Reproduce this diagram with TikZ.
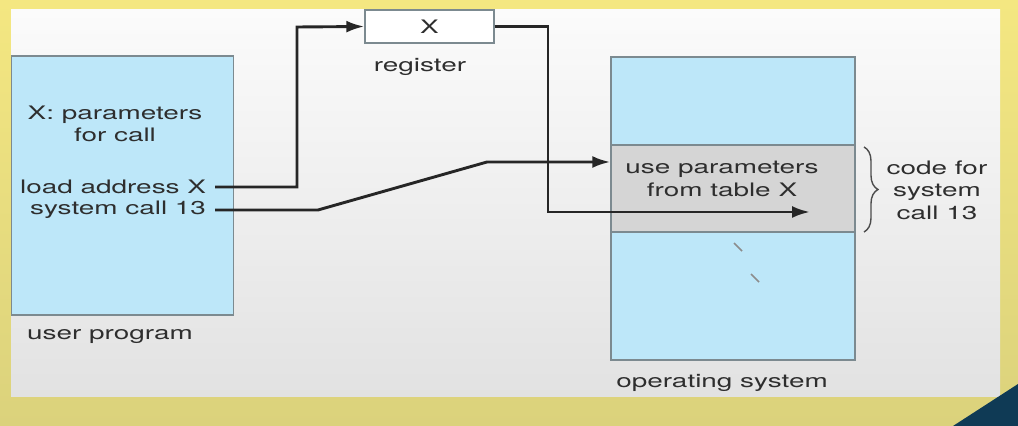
\documentclass[tikz,border=0pt]{standalone}
\usepackage{fontspec}
\setmainfont[FakeStretch=1.5]{TeX Gyre Heros}
\usetikzlibrary{arrows.meta, decorations.pathreplacing}

\definecolor{slidetop}{HTML}{F4E781}
\definecolor{slidebottom}{HTML}{DBD27C}
\definecolor{paneltop}{HTML}{FBFBFB}
\definecolor{panelbottom}{HTML}{E2E2E2}
\definecolor{memblue}{HTML}{BDE7F9}
\definecolor{bandgray}{HTML}{D5D5D5}
\definecolor{boxedge}{HTML}{7C8A90}
\definecolor{textgray}{HTML}{2E2E2E}
\definecolor{cornerblue}{HTML}{0F3A55}

\begin{document}
\begin{tikzpicture}[
    x=0.5pt, y=-0.5pt,
    font=\fontsize{9.3}{11.3}\selectfont,
    text=textgray,
    membox/.style={draw=boxedge, fill=memblue, line width=0.7pt, inner sep=0pt},
    lbl/.style={align=center, inner sep=2pt},
    conn/.style={line width=1.45pt, draw=black!85, -{Latex[length=9pt, width=6pt]}},
    ]
    % slide background
    \shade[top color=slidetop, bottom color=slidebottom] (0,0) rectangle (1018,426);
    \shade[top color=paneltop, bottom color=panelbottom] (11,10) rectangle (1000,397);
    \fill[cornerblue] (953,426) -- (1018,384) -- (1018,426) -- cycle;
    \useasboundingbox (0,0) rectangle (1018,426);

    % user program
    \node[membox, minimum width=111pt, minimum height=129.5pt] (user) at (122.5,185.5) {};
    \node[lbl] (params) at (115,124) {X: parameters\\for call};
    \node[lbl, anchor=east, outer xsep=2.5pt] (load) at (215,187) {load address X};
    \node[lbl, anchor=east, outer xsep=2.5pt] (sys) at (215,210) {system call 13};
    \node[lbl] (userlbl) at (110,337) {user program};

    % register
    \node[membox, fill=white, minimum width=64.5pt, minimum height=16.5pt] (reg) at (429.5,26.5) {X};
    \node[lbl] (reglbl) at (420,67) {register};

    % operating system
    \node[membox, minimum width=122pt, minimum height=151.5pt] (os) at (733,208.5) {};
    \node[membox, fill=bandgray, minimum width=122pt, minimum height=43.5pt] (band) at (733,188.5) {};
    \node[lbl] (code) at (722,179) {use parameters\\from table X};
    \node[lbl] (oslbl) at (722,383) {operating system};
    \draw[black!45, line width=0.8pt] (734,243) -- (742,251);
    \draw[black!45, line width=0.8pt] (751,274) -- (759,282);

    % brace
    \draw[black!70, line width=0.7pt, decorate, decoration={brace, amplitude=7pt}]
        (864,147) -- (864,232);
    \node[lbl] (bracelbl) at (937,190) {code for\\system\\call 13};

    % connectors
    \coordinate (bendA) at (297,27);
    \coordinate (bendB) at (548,212);
    \coordinate (tipB) at (810,212);
    \coordinate (kneeA) at (318,210);
    \coordinate (kneeB) at (487,162);
    \draw[conn] (load.east) -| (bendA) -- (reg.west);
    \draw[conn] (reg.east) -| (bendB) -- (tipB);
    \draw[conn] (sys.east) -- (kneeA) -- (kneeB) -- (kneeB -| os.west);
\end{tikzpicture}
\end{document}
